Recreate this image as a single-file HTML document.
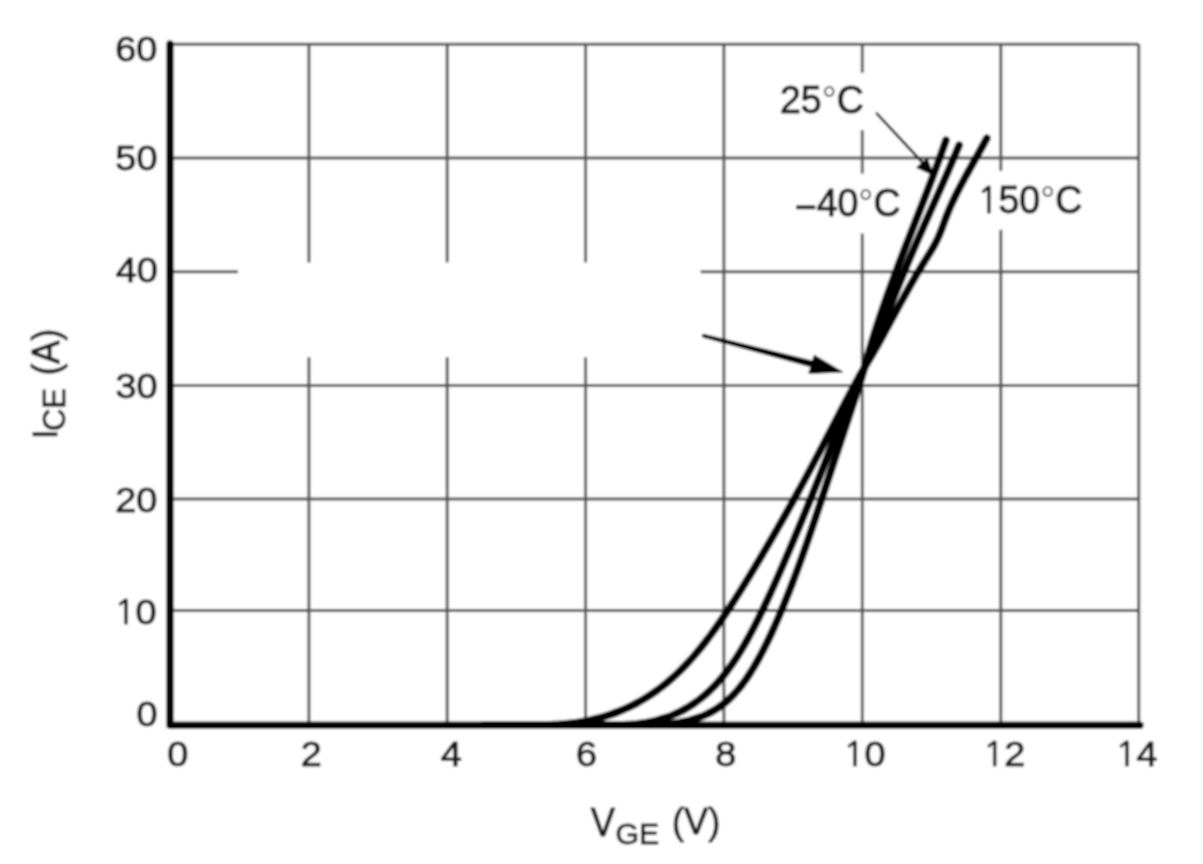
<!DOCTYPE html>
<html><head><meta charset="utf-8"><title>IGBT transfer characteristics: I_CE vs V_GE</title>
<style>html,body{margin:0;padding:0;background:#fff;overflow:hidden;}svg{display:block;}text{font-kerning:none;}</style></head>
<body><svg width="1203" height="864" viewBox="0 0 1203 864">
<defs><filter id="soft" x="-1%" y="-1%" width="102%" height="102%"><feGaussianBlur stdDeviation="1.0"/></filter></defs>
<rect width="1203" height="864" fill="#fff"/>
<g filter="url(#soft)">
<rect width="1203" height="864" fill="#fff"/>
<path d="M308.90 44.20V262.50M308.90 357.30V725.20M447.20 44.20V262.50M447.20 357.30V725.20M585.60 44.20V262.50M585.60 357.30V725.20M723.90 44.20V725.20M862.30 44.20V73.00M862.30 130.20V173.50M862.30 233.50V725.20M1000.80 44.20V171.00M1000.80 229.70V725.20M1138.75 44.20V725.20M170.00 44.20H1138.75M170.00 158.10H1138.75M170.00 271.70H238M700.6 271.70H1138.75M170.00 385.45H1138.75M170.00 498.90H1138.75M170.00 610.60H1138.75" stroke="#555555" stroke-width="3.0" fill="none"/>
<path d="M170.00 44.00 V725.20 H1140" stroke="#000" stroke-width="7.4" fill="none" stroke-linecap="round" stroke-linejoin="round"/>
<g stroke="#000" stroke-width="7.8" fill="none" stroke-linecap="round" stroke-linejoin="round"><path d="M483.98 725.00 C493.98 725.00 533.06 725.01 543.98 725.00 C554.90 724.99 547.66 724.98 549.48 724.94 C551.30 724.90 553.12 724.83 554.92 724.75 C556.72 724.67 558.52 724.57 560.31 724.44 C562.09 724.32 563.87 724.17 565.63 724.00 C567.39 723.83 569.14 723.65 570.89 723.44 C572.63 723.23 574.38 723.00 576.10 722.75 C577.83 722.50 579.54 722.23 581.24 721.94 C582.94 721.65 585.07 721.24 586.32 721.00 C587.57 720.76 586.32 721.08 588.76 720.50 C591.20 719.92 597.32 718.50 600.96 717.50 C604.60 716.50 607.63 715.50 610.59 714.50 C613.55 713.50 616.18 712.50 618.71 711.50 C621.25 710.50 623.56 709.50 625.80 708.50 C628.04 707.50 630.12 706.50 632.13 705.50 C634.14 704.50 636.03 703.50 637.87 702.50 C639.71 701.50 641.46 700.50 643.15 699.50 C644.84 698.50 646.46 697.50 648.03 696.50 C649.60 695.50 651.11 694.50 652.58 693.50 C654.05 692.50 655.47 691.50 656.85 690.50 C658.23 689.50 659.57 688.50 660.88 687.50 C662.19 686.50 663.46 685.50 664.70 684.50 C665.94 683.50 667.15 682.50 668.33 681.50 C669.51 680.50 670.66 679.50 671.79 678.50 C672.92 677.50 674.02 676.50 675.10 675.50 C676.18 674.50 677.24 673.50 678.28 672.50 C679.32 671.50 680.34 670.50 681.34 669.50 C682.34 668.50 683.32 667.50 684.29 666.50 C685.26 665.50 686.20 664.50 687.14 663.50 C688.08 662.50 689.00 661.50 689.90 660.50 C690.80 659.50 691.69 658.50 692.57 657.50 C693.45 656.50 694.32 655.50 695.18 654.50 C696.04 653.50 696.88 652.50 697.71 651.50 C698.54 650.50 699.37 649.50 700.18 648.50 C700.99 647.50 701.80 646.50 702.59 645.50 C703.38 644.50 704.17 643.50 704.95 642.50 C705.73 641.50 706.50 640.50 707.26 639.50 C708.02 638.50 708.77 637.50 709.52 636.50 C710.27 635.50 711.01 634.50 711.75 633.50 C712.49 632.50 713.21 631.50 713.93 630.50 C714.65 629.50 715.37 628.50 716.08 627.50 C716.79 626.50 717.50 625.50 718.20 624.50 C718.90 623.50 719.60 622.50 720.29 621.50 C720.98 620.50 721.67 619.50 722.35 618.50 C723.03 617.50 723.71 616.50 724.38 615.50 C725.05 614.50 725.72 613.50 726.39 612.50 C727.06 611.50 727.72 610.50 728.38 609.50 C729.04 608.50 729.70 607.50 730.35 606.50 C731.00 605.50 731.65 604.50 732.30 603.50 C732.95 602.50 733.60 601.50 734.24 600.50 C734.88 599.50 735.51 598.50 736.15 597.50 C736.78 596.50 737.42 595.50 738.05 594.50 C738.68 593.50 739.31 592.50 739.94 591.50 C740.57 590.50 741.20 589.50 741.82 588.50 C742.44 587.50 743.06 586.50 743.68 585.50 C744.30 584.50 744.91 583.50 745.53 582.50 C746.15 581.50 746.77 580.50 747.38 579.50 C747.99 578.50 748.60 577.50 749.21 576.50 C749.82 575.50 750.42 574.50 751.03 573.50 C751.64 572.50 752.25 571.50 752.85 570.50 C753.45 569.50 754.05 568.50 754.65 567.50 C755.25 566.50 755.85 565.50 756.45 564.50 C757.05 563.50 757.64 562.50 758.24 561.50 C758.84 560.50 759.44 559.50 760.03 558.50 C760.62 557.50 761.21 556.50 761.80 555.50 C762.39 554.50 762.98 553.50 763.57 552.50 C764.16 551.50 764.75 550.50 765.34 549.50 C765.93 548.50 766.51 547.50 767.09 546.50 C767.67 545.50 768.26 544.50 768.84 543.50 C769.42 542.50 770.01 541.50 770.59 540.50 C771.17 539.50 771.75 538.50 772.33 537.50 C772.91 536.50 773.48 535.50 774.06 534.50 C774.64 533.50 775.21 532.50 775.79 531.50 C776.37 530.50 776.94 529.50 777.51 528.50 C778.08 527.50 778.66 526.50 779.23 525.50 C779.80 524.50 780.37 523.50 780.94 522.50 C781.51 521.50 782.07 520.50 782.64 519.50 C783.21 518.50 783.77 517.50 784.34 516.50 C784.91 515.50 785.48 514.50 786.04 513.50 C786.60 512.50 787.16 511.50 787.72 510.50 C788.28 509.50 788.85 508.50 789.41 507.50 C789.97 506.50 790.52 505.50 791.08 504.50 C791.64 503.50 792.20 502.50 792.75 501.50 C793.30 500.50 793.86 499.50 794.41 498.50 C794.96 497.50 795.52 496.50 796.07 495.50 C796.62 494.50 797.17 493.50 797.72 492.50 C798.27 491.50 798.82 490.50 799.37 489.50 C799.92 488.50 800.46 487.50 801.01 486.50 C801.56 485.50 802.11 484.50 802.65 483.50 C803.19 482.50 803.73 481.50 804.27 480.50 C804.81 479.50 805.36 478.50 805.90 477.50 C806.44 476.50 806.97 475.50 807.51 474.50 C808.05 473.50 808.58 472.50 809.12 471.50 C809.66 470.50 810.20 469.50 810.73 468.50 C811.26 467.50 811.80 466.50 812.33 465.50 C812.86 464.50 813.40 463.50 813.93 462.50 C814.46 461.50 814.99 460.50 815.52 459.50 C816.05 458.50 816.57 457.50 817.10 456.50 C817.63 455.50 818.15 454.50 818.68 453.50 C819.21 452.50 819.74 451.50 820.26 450.50 C820.78 449.50 821.31 448.50 821.83 447.50 C822.35 446.50 822.88 445.50 823.40 444.50 C823.92 443.50 824.44 442.50 824.96 441.50 C825.48 440.50 826.01 439.50 826.53 438.50 C827.05 437.50 827.57 436.50 828.09 435.50 C828.61 434.50 829.13 433.50 829.65 432.50 C830.17 431.50 830.68 430.50 831.20 429.50 C831.72 428.50 832.24 427.50 832.76 426.50 C833.28 425.50 833.80 424.50 834.32 423.50 C834.84 422.50 835.35 421.50 835.87 420.50 C836.39 419.50 836.91 418.50 837.43 417.50 C837.95 416.50 838.47 415.50 838.99 414.50 C839.51 413.50 840.03 412.50 840.55 411.50 C841.07 410.50 841.60 409.50 842.12 408.50 C842.64 407.50 843.17 406.50 843.69 405.50 C844.22 404.50 844.74 403.50 845.27 402.50 C845.80 401.50 846.32 400.50 846.85 399.50 C847.38 398.50 847.91 397.50 848.44 396.50 C848.97 395.50 849.50 394.50 850.04 393.50 C850.57 392.50 851.11 391.50 851.65 390.50 C852.19 389.50 852.74 388.50 853.28 387.50 C853.82 386.50 854.36 385.50 854.91 384.50 C855.46 383.50 856.01 382.50 856.56 381.50 C857.10 380.50 857.63 379.50 858.18 378.50 C858.72 377.50 859.27 376.50 859.83 375.50 C860.39 374.50 860.97 373.50 861.55 372.50 C862.13 371.50 862.73 370.50 863.32 369.50 C863.92 368.50 864.52 367.50 865.12 366.50 C865.72 365.50 866.33 364.50 866.93 363.50 C867.53 362.50 868.13 361.50 868.73 360.50 C869.33 359.50 869.91 358.50 870.50 357.50 C871.09 356.50 871.67 355.50 872.25 354.50 C872.83 353.50 873.40 352.50 873.97 351.50 C874.54 350.50 875.12 349.50 875.69 348.50 C876.26 347.50 876.82 346.50 877.38 345.50 C877.94 344.50 878.50 343.50 879.06 342.50 C879.62 341.50 880.17 340.50 880.73 339.50 C881.29 338.50 881.84 337.50 882.39 336.50 C882.94 335.50 883.49 334.50 884.04 333.50 C884.59 332.50 885.13 331.50 885.68 330.50 C886.22 329.50 886.77 328.50 887.31 327.50 C887.85 326.50 888.40 325.50 888.94 324.50 C889.48 323.50 890.02 322.50 890.56 321.50 C891.10 320.50 891.65 319.50 892.19 318.50 C892.73 317.50 893.27 316.50 893.81 315.50 C894.35 314.50 894.89 313.50 895.43 312.50 C895.97 311.50 896.51 310.50 897.05 309.50 C897.59 308.50 898.14 307.50 898.68 306.50 C899.22 305.50 899.76 304.50 900.31 303.50 C900.86 302.50 901.40 301.50 901.95 300.50 C902.50 299.50 903.04 298.50 903.59 297.50 C904.14 296.50 904.70 295.50 905.25 294.50 C905.80 293.50 906.36 292.50 906.92 291.50 C907.48 290.50 908.03 289.50 908.59 288.50 C909.15 287.50 909.72 286.50 910.29 285.50 C910.86 284.50 911.42 283.50 911.99 282.50 C912.56 281.50 913.14 280.50 913.72 279.50 C914.30 278.50 914.88 277.50 915.46 276.50 C916.04 275.50 916.63 274.50 917.22 273.50 C917.81 272.50 918.40 271.50 919.00 270.50 C919.60 269.50 920.19 268.50 920.80 267.50 C921.40 266.50 922.02 265.50 922.63 264.50 C923.24 263.50 923.86 262.50 924.48 261.50 C925.10 260.50 925.73 259.50 926.36 258.50 C926.99 257.50 927.62 256.50 928.24 255.50 C928.86 254.50 929.49 253.50 930.10 252.50 C930.71 251.50 931.32 250.50 931.91 249.50 C932.50 248.50 933.09 247.50 933.65 246.50 C934.21 245.50 934.76 244.50 935.28 243.50 C935.80 242.50 936.30 241.50 936.79 240.50 C937.27 239.50 937.74 238.50 938.19 237.50 C938.64 236.50 939.06 235.50 939.48 234.50 C939.90 233.50 940.30 232.50 940.70 231.50 C941.10 230.50 941.48 229.50 941.86 228.50 C942.24 227.50 942.62 226.50 942.99 225.50 C943.36 224.50 943.73 223.50 944.10 222.50 C944.47 221.50 944.84 220.50 945.21 219.50 C945.59 218.50 945.96 217.50 946.35 216.50 C946.74 215.50 947.13 214.50 947.53 213.50 C947.93 212.50 948.35 211.50 948.77 210.50 C949.19 209.50 949.62 208.50 950.05 207.50 C950.48 206.50 950.93 205.50 951.38 204.50 C951.83 203.50 952.29 202.50 952.76 201.50 C953.23 200.50 953.70 199.50 954.18 198.50 C954.66 197.50 955.15 196.50 955.64 195.50 C956.13 194.50 956.63 193.50 957.13 192.50 C957.63 191.50 958.14 190.50 958.66 189.50 C959.17 188.50 959.70 187.50 960.22 186.50 C960.74 185.50 961.27 184.50 961.80 183.50 C962.33 182.50 962.87 181.50 963.41 180.50 C963.95 179.50 964.49 178.50 965.03 177.50 C965.57 176.50 966.13 175.50 966.68 174.50 C967.23 173.50 967.79 172.50 968.34 171.50 C968.89 170.50 969.45 169.50 970.01 168.50 C970.57 167.50 971.13 166.50 971.69 165.50 C972.25 164.50 972.81 163.50 973.37 162.50 C973.93 161.50 974.50 160.50 975.06 159.50 C975.62 158.50 976.19 157.50 976.75 156.50 C977.31 155.50 977.87 154.50 978.43 153.50 C978.99 152.50 979.55 151.50 980.11 150.50 C980.67 149.50 981.23 148.50 981.78 147.50 C982.33 146.50 982.88 145.50 983.43 144.50 C983.98 143.50 984.53 142.50 985.07 141.50 C985.61 140.50 986.40 139.03 986.69 138.50 C986.98 137.97 986.78 138.33 986.80 138.30"/><path d="M558.71 725.00 C568.71 725.00 607.92 725.01 618.71 725.00 C629.50 724.99 621.87 724.98 623.43 724.94 C624.99 724.90 626.54 724.83 628.07 724.75 C629.60 724.67 631.12 724.57 632.63 724.44 C634.14 724.32 635.63 724.17 637.11 724.00 C638.59 723.83 640.06 723.65 641.52 723.44 C642.98 723.23 644.43 723.00 645.86 722.75 C647.29 722.50 648.70 722.23 650.11 721.94 C651.52 721.65 653.27 721.24 654.30 721.00 C655.33 720.76 654.31 721.08 656.30 720.50 C658.29 719.92 663.28 718.50 666.22 717.50 C669.16 716.50 671.59 715.50 673.95 714.50 C676.31 713.50 678.39 712.50 680.39 711.50 C682.39 710.50 684.22 709.50 685.97 708.50 C687.73 707.50 689.35 706.50 690.92 705.50 C692.49 704.50 693.95 703.50 695.37 702.50 C696.79 701.50 698.14 700.50 699.44 699.50 C700.74 698.50 701.98 697.50 703.18 696.50 C704.38 695.50 705.54 694.50 706.66 693.50 C707.78 692.50 708.85 691.50 709.90 690.50 C710.95 689.50 711.96 688.50 712.95 687.50 C713.94 686.50 714.90 685.50 715.83 684.50 C716.76 683.50 717.66 682.50 718.55 681.50 C719.44 680.50 720.30 679.50 721.15 678.50 C722.00 677.50 722.81 676.50 723.62 675.50 C724.43 674.50 725.22 673.50 725.99 672.50 C726.76 671.50 727.52 670.50 728.26 669.50 C729.00 668.50 729.73 667.50 730.45 666.50 C731.17 665.50 731.87 664.50 732.56 663.50 C733.25 662.50 733.93 661.50 734.60 660.50 C735.27 659.50 735.92 658.50 736.57 657.50 C737.22 656.50 737.86 655.50 738.49 654.50 C739.12 653.50 739.75 652.50 740.36 651.50 C740.97 650.50 741.57 649.50 742.17 648.50 C742.77 647.50 743.36 646.50 743.94 645.50 C744.52 644.50 745.10 643.50 745.67 642.50 C746.24 641.50 746.81 640.50 747.37 639.50 C747.93 638.50 748.47 637.50 749.02 636.50 C749.57 635.50 750.11 634.50 750.65 633.50 C751.19 632.50 751.72 631.50 752.25 630.50 C752.78 629.50 753.30 628.50 753.82 627.50 C754.34 626.50 754.86 625.50 755.37 624.50 C755.88 623.50 756.39 622.50 756.89 621.50 C757.39 620.50 757.89 619.50 758.39 618.50 C758.89 617.50 759.38 616.50 759.87 615.50 C760.36 614.50 760.85 613.50 761.34 612.50 C761.83 611.50 762.31 610.50 762.79 609.50 C763.27 608.50 763.75 607.50 764.22 606.50 C764.70 605.50 765.17 604.50 765.64 603.50 C766.11 602.50 766.57 601.50 767.04 600.50 C767.51 599.50 767.98 598.50 768.44 597.50 C768.90 596.50 769.36 595.50 769.82 594.50 C770.28 593.50 770.74 592.50 771.19 591.50 C771.64 590.50 772.10 589.50 772.55 588.50 C773.00 587.50 773.46 586.50 773.91 585.50 C774.36 584.50 774.80 583.50 775.25 582.50 C775.70 581.50 776.14 580.50 776.59 579.50 C777.04 578.50 777.48 577.50 777.92 576.50 C778.36 575.50 778.80 574.50 779.24 573.50 C779.68 572.50 780.12 571.50 780.56 570.50 C781.00 569.50 781.42 568.50 781.86 567.50 C782.30 566.50 782.73 565.50 783.17 564.50 C783.61 563.50 784.04 562.50 784.47 561.50 C784.90 560.50 785.33 559.50 785.76 558.50 C786.19 557.50 786.62 556.50 787.05 555.50 C787.48 554.50 787.90 553.50 788.33 552.50 C788.76 551.50 789.19 550.50 789.61 549.50 C790.03 548.50 790.46 547.50 790.88 546.50 C791.30 545.50 791.73 544.50 792.15 543.50 C792.57 542.50 793.00 541.50 793.42 540.50 C793.84 539.50 794.26 538.50 794.68 537.50 C795.10 536.50 795.51 535.50 795.93 534.50 C796.35 533.50 796.77 532.50 797.19 531.50 C797.61 530.50 798.03 529.50 798.44 528.50 C798.86 527.50 799.27 526.50 799.68 525.50 C800.09 524.50 800.51 523.50 800.92 522.50 C801.33 521.50 801.75 520.50 802.16 519.50 C802.57 518.50 802.99 517.50 803.40 516.50 C803.81 515.50 804.22 514.50 804.63 513.50 C805.04 512.50 805.45 511.50 805.86 510.50 C806.27 509.50 806.67 508.50 807.08 507.50 C807.49 506.50 807.89 505.50 808.30 504.50 C808.71 503.50 809.11 502.50 809.52 501.50 C809.93 500.50 810.34 499.50 810.74 498.50 C811.14 497.50 811.55 496.50 811.95 495.50 C812.35 494.50 812.76 493.50 813.16 492.50 C813.56 491.50 813.96 490.50 814.36 489.50 C814.76 488.50 815.17 487.50 815.57 486.50 C815.97 485.50 816.37 484.50 816.77 483.50 C817.17 482.50 817.57 481.50 817.97 480.50 C818.37 479.50 818.76 478.50 819.16 477.50 C819.56 476.50 819.95 475.50 820.35 474.50 C820.75 473.50 821.15 472.50 821.55 471.50 C821.95 470.50 822.34 469.50 822.73 468.50 C823.12 467.50 823.52 466.50 823.92 465.50 C824.32 464.50 824.72 463.50 825.11 462.50 C825.50 461.50 825.89 460.50 826.29 459.50 C826.68 458.50 827.09 457.50 827.48 456.50 C827.88 455.50 828.27 454.50 828.66 453.50 C829.05 452.50 829.45 451.50 829.84 450.50 C830.23 449.50 830.63 448.50 831.02 447.50 C831.41 446.50 831.81 445.50 832.20 444.50 C832.60 443.50 833.00 442.50 833.39 441.50 C833.78 440.50 834.18 439.50 834.57 438.50 C834.96 437.50 835.36 436.50 835.75 435.50 C836.14 434.50 836.54 433.50 836.94 432.50 C837.34 431.50 837.73 430.50 838.13 429.50 C838.53 428.50 838.92 427.50 839.32 426.50 C839.72 425.50 840.12 424.50 840.52 423.50 C840.92 422.50 841.32 421.50 841.72 420.50 C842.12 419.50 842.52 418.50 842.92 417.50 C843.32 416.50 843.73 415.50 844.13 414.50 C844.53 413.50 844.94 412.50 845.35 411.50 C845.76 410.50 846.16 409.50 846.57 408.50 C846.98 407.50 847.39 406.50 847.80 405.50 C848.21 404.50 848.63 403.50 849.04 402.50 C849.45 401.50 849.86 400.50 850.28 399.50 C850.70 398.50 851.12 397.50 851.54 396.50 C851.96 395.50 852.38 394.50 852.81 393.50 C853.23 392.50 853.66 391.50 854.09 390.50 C854.52 389.50 854.95 388.50 855.38 387.50 C855.81 386.50 856.25 385.50 856.69 384.50 C857.13 383.50 857.56 382.50 858.01 381.50 C858.46 380.50 858.91 379.50 859.37 378.50 C859.83 377.50 860.30 376.50 860.77 375.50 C861.24 374.50 861.72 373.50 862.19 372.50 C862.66 371.50 863.14 370.50 863.61 369.50 C864.08 368.50 864.54 367.50 865.00 366.50 C865.46 365.50 865.92 364.50 866.37 363.50 C866.82 362.50 867.26 361.50 867.70 360.50 C868.14 359.50 868.57 358.50 869.00 357.50 C869.43 356.50 869.86 355.50 870.29 354.50 C870.72 353.50 871.14 352.50 871.57 351.50 C872.00 350.50 872.42 349.50 872.84 348.50 C873.26 347.50 873.69 346.50 874.11 345.50 C874.53 344.50 874.95 343.50 875.37 342.50 C875.79 341.50 876.21 340.50 876.62 339.50 C877.03 338.50 877.45 337.50 877.86 336.50 C878.27 335.50 878.69 334.50 879.10 333.50 C879.51 332.50 879.93 331.50 880.34 330.50 C880.75 329.50 881.16 328.50 881.57 327.50 C881.98 326.50 882.38 325.50 882.79 324.50 C883.20 323.50 883.60 322.50 884.01 321.50 C884.42 320.50 884.82 319.50 885.23 318.50 C885.64 317.50 886.05 316.50 886.45 315.50 C886.86 314.50 887.26 313.50 887.66 312.50 C888.06 311.50 888.47 310.50 888.87 309.50 C889.27 308.50 889.68 307.50 890.08 306.50 C890.48 305.50 890.89 304.50 891.29 303.50 C891.69 302.50 892.10 301.50 892.50 300.50 C892.90 299.50 893.32 298.50 893.72 297.50 C894.12 296.50 894.53 295.50 894.93 294.50 C895.33 293.50 895.74 292.50 896.14 291.50 C896.54 290.50 896.95 289.50 897.36 288.50 C897.77 287.50 898.17 286.50 898.58 285.50 C898.99 284.50 899.39 283.50 899.80 282.50 C900.21 281.50 900.62 280.50 901.03 279.50 C901.44 278.50 901.85 277.50 902.26 276.50 C902.67 275.50 903.08 274.50 903.49 273.50 C903.90 272.50 904.32 271.50 904.73 270.50 C905.14 269.50 905.56 268.50 905.98 267.50 C906.40 266.50 906.81 265.50 907.23 264.50 C907.65 263.50 908.07 262.50 908.49 261.50 C908.91 260.50 909.34 259.50 909.76 258.50 C910.18 257.50 910.60 256.50 911.03 255.50 C911.46 254.50 911.89 253.50 912.32 252.50 C912.75 251.50 913.18 250.50 913.61 249.50 C914.04 248.50 914.47 247.50 914.90 246.50 C915.33 245.50 915.77 244.50 916.20 243.50 C916.63 242.50 917.07 241.50 917.51 240.50 C917.95 239.50 918.38 238.50 918.82 237.50 C919.26 236.50 919.70 235.50 920.14 234.50 C920.58 233.50 921.02 232.50 921.46 231.50 C921.90 230.50 922.34 229.50 922.78 228.50 C923.22 227.50 923.66 226.50 924.10 225.50 C924.54 224.50 924.99 223.50 925.43 222.50 C925.87 221.50 926.31 220.50 926.76 219.50 C927.21 218.50 927.65 217.50 928.10 216.50 C928.55 215.50 928.99 214.50 929.43 213.50 C929.87 212.50 930.31 211.50 930.76 210.50 C931.21 209.50 931.65 208.50 932.10 207.50 C932.55 206.50 932.98 205.50 933.43 204.50 C933.88 203.50 934.32 202.50 934.77 201.50 C935.22 200.50 935.66 199.50 936.10 198.50 C936.54 197.50 936.99 196.50 937.43 195.50 C937.87 194.50 938.32 193.50 938.76 192.50 C939.20 191.50 939.65 190.50 940.09 189.50 C940.53 188.50 940.97 187.50 941.41 186.50 C941.85 185.50 942.29 184.50 942.73 183.50 C943.17 182.50 943.61 181.50 944.05 180.50 C944.49 179.50 944.92 178.50 945.36 177.50 C945.80 176.50 946.23 175.50 946.67 174.50 C947.11 173.50 947.54 172.50 947.97 171.50 C948.40 170.50 948.84 169.50 949.27 168.50 C949.70 167.50 950.13 166.50 950.56 165.50 C950.99 164.50 951.41 163.50 951.84 162.50 C952.27 161.50 952.70 160.50 953.12 159.50 C953.54 158.50 953.97 157.50 954.39 156.50 C954.81 155.50 955.23 154.50 955.65 153.50 C956.07 152.50 956.48 151.50 956.90 150.50 C957.32 149.50 957.78 148.38 958.15 147.50 C958.52 146.62 958.94 145.58 959.10 145.20"/><path d="M588.60 725.00 C598.60 725.00 637.70 725.01 648.60 725.00 C659.50 724.99 652.23 724.98 654.00 724.94 C655.77 724.90 657.52 724.83 659.24 724.75 C660.96 724.67 662.65 724.57 664.31 724.44 C665.97 724.32 667.60 724.17 669.21 724.00 C670.82 723.83 672.40 723.65 673.95 723.44 C675.50 723.23 677.02 723.00 678.52 722.75 C680.02 722.50 681.49 722.23 682.94 721.94 C684.39 721.65 686.15 721.24 687.20 721.00 C688.25 720.76 687.27 721.08 689.22 720.50 C691.17 719.92 696.10 718.50 698.93 717.50 C701.76 716.50 704.02 715.50 706.21 714.50 C708.40 713.50 710.28 712.50 712.09 711.50 C713.90 710.50 715.50 709.50 717.05 708.50 C718.59 707.50 720.00 706.50 721.36 705.50 C722.72 704.50 723.97 703.50 725.18 702.50 C726.39 701.50 727.52 700.50 728.62 699.50 C729.72 698.50 730.75 697.50 731.75 696.50 C732.75 695.50 733.71 694.50 734.63 693.50 C735.55 692.50 736.44 691.50 737.30 690.50 C738.16 689.50 739.00 688.50 739.81 687.50 C740.62 686.50 741.40 685.50 742.17 684.50 C742.93 683.50 743.67 682.50 744.40 681.50 C745.12 680.50 745.83 679.50 746.52 678.50 C747.21 677.50 747.89 676.50 748.55 675.50 C749.21 674.50 749.86 673.50 750.50 672.50 C751.14 671.50 751.75 670.50 752.37 669.50 C752.99 668.50 753.60 667.50 754.19 666.50 C754.79 665.50 755.37 664.50 755.94 663.50 C756.52 662.50 757.08 661.50 757.64 660.50 C758.20 659.50 758.75 658.50 759.30 657.50 C759.84 656.50 760.38 655.50 760.91 654.50 C761.44 653.50 761.96 652.50 762.48 651.50 C763.00 650.50 763.51 649.50 764.02 648.50 C764.53 647.50 765.03 646.50 765.53 645.50 C766.03 644.50 766.52 643.50 767.01 642.50 C767.50 641.50 767.98 640.50 768.46 639.50 C768.94 638.50 769.42 637.50 769.89 636.50 C770.36 635.50 770.83 634.50 771.29 633.50 C771.75 632.50 772.21 631.50 772.67 630.50 C773.13 629.50 773.59 628.50 774.04 627.50 C774.49 626.50 774.94 625.50 775.38 624.50 C775.82 623.50 776.26 622.50 776.70 621.50 C777.14 620.50 777.57 619.50 778.00 618.50 C778.43 617.50 778.86 616.50 779.29 615.50 C779.72 614.50 780.15 613.50 780.57 612.50 C780.99 611.50 781.40 610.50 781.82 609.50 C782.24 608.50 782.66 607.50 783.07 606.50 C783.48 605.50 783.89 604.50 784.30 603.50 C784.71 602.50 785.11 601.50 785.51 600.50 C785.91 599.50 786.32 598.50 786.72 597.50 C787.12 596.50 787.51 595.50 787.91 594.50 C788.30 593.50 788.70 592.50 789.09 591.50 C789.48 590.50 789.87 589.50 790.26 588.50 C790.65 587.50 791.03 586.50 791.42 585.50 C791.80 584.50 792.19 583.50 792.57 582.50 C792.95 581.50 793.32 580.50 793.70 579.50 C794.08 578.50 794.46 577.50 794.83 576.50 C795.21 575.50 795.58 574.50 795.95 573.50 C796.32 572.50 796.69 571.50 797.06 570.50 C797.43 569.50 797.79 568.50 798.16 567.50 C798.52 566.50 798.89 565.50 799.25 564.50 C799.61 563.50 799.98 562.50 800.34 561.50 C800.70 560.50 801.06 559.50 801.42 558.50 C801.78 557.50 802.12 556.50 802.48 555.50 C802.84 554.50 803.20 553.50 803.55 552.50 C803.90 551.50 804.25 550.50 804.60 549.50 C804.95 548.50 805.30 547.50 805.65 546.50 C806.00 545.50 806.35 544.50 806.70 543.50 C807.05 542.50 807.38 541.50 807.73 540.50 C808.08 539.50 808.43 538.50 808.77 537.50 C809.11 536.50 809.45 535.50 809.79 534.50 C810.13 533.50 810.48 532.50 810.82 531.50 C811.16 530.50 811.50 529.50 811.84 528.50 C812.18 527.50 812.51 526.50 812.85 525.50 C813.19 524.50 813.52 523.50 813.86 522.50 C814.20 521.50 814.53 520.50 814.87 519.50 C815.21 518.50 815.54 517.50 815.87 516.50 C816.20 515.50 816.54 514.50 816.87 513.50 C817.20 512.50 817.54 511.50 817.87 510.50 C818.20 509.50 818.54 508.50 818.87 507.50 C819.20 506.50 819.53 505.50 819.86 504.50 C820.19 503.50 820.52 502.50 820.85 501.50 C821.18 500.50 821.51 499.50 821.84 498.50 C822.17 497.50 822.50 496.50 822.83 495.50 C823.16 494.50 823.49 493.50 823.82 492.50 C824.15 491.50 824.48 490.50 824.81 489.50 C825.14 488.50 825.46 487.50 825.79 486.50 C826.12 485.50 826.45 484.50 826.78 483.50 C827.11 482.50 827.44 481.50 827.77 480.50 C828.10 479.50 828.42 478.50 828.75 477.50 C829.08 476.50 829.41 475.50 829.74 474.50 C830.07 473.50 830.40 472.50 830.73 471.50 C831.06 470.50 831.38 469.50 831.71 468.50 C832.04 467.50 832.37 466.50 832.70 465.50 C833.03 464.50 833.36 463.50 833.69 462.50 C834.02 461.50 834.35 460.50 834.68 459.50 C835.01 458.50 835.34 457.50 835.67 456.50 C836.00 455.50 836.34 454.50 836.67 453.50 C837.00 452.50 837.33 451.50 837.66 450.50 C837.99 449.50 838.32 448.50 838.65 447.50 C838.98 446.50 839.32 445.50 839.65 444.50 C839.98 443.50 840.31 442.50 840.64 441.50 C840.97 440.50 841.31 439.50 841.64 438.50 C841.97 437.50 842.31 436.50 842.64 435.50 C842.97 434.50 843.31 433.50 843.64 432.50 C843.97 431.50 844.30 430.50 844.63 429.50 C844.96 428.50 845.30 427.50 845.63 426.50 C845.96 425.50 846.30 424.50 846.63 423.50 C846.96 422.50 847.30 421.50 847.63 420.50 C847.96 419.50 848.30 418.50 848.63 417.50 C848.96 416.50 849.29 415.50 849.62 414.50 C849.95 413.50 850.29 412.50 850.62 411.50 C850.95 410.50 851.28 409.50 851.61 408.50 C851.94 407.50 852.27 406.50 852.60 405.50 C852.93 404.50 853.26 403.50 853.59 402.50 C853.92 401.50 854.24 400.50 854.57 399.50 C854.90 398.50 855.22 397.50 855.55 396.50 C855.88 395.50 856.20 394.50 856.53 393.50 C856.86 392.50 857.18 391.50 857.50 390.50 C857.82 389.50 858.15 388.50 858.47 387.50 C858.79 386.50 859.11 385.50 859.43 384.50 C859.75 383.50 860.06 382.50 860.38 381.50 C860.70 380.50 861.03 379.50 861.34 378.50 C861.65 377.50 861.97 376.50 862.27 375.50 C862.57 374.50 862.86 373.50 863.15 372.50 C863.44 371.50 863.72 370.50 864.00 369.50 C864.28 368.50 864.55 367.50 864.82 366.50 C865.09 365.50 865.36 364.50 865.62 363.50 C865.88 362.50 866.14 361.50 866.41 360.50 C866.68 359.50 866.98 358.50 867.26 357.50 C867.54 356.50 867.83 355.50 868.12 354.50 C868.41 353.50 868.70 352.50 868.99 351.50 C869.28 350.50 869.58 349.50 869.88 348.50 C870.18 347.50 870.48 346.50 870.78 345.50 C871.08 344.50 871.38 343.50 871.69 342.50 C872.00 341.50 872.30 340.50 872.61 339.50 C872.92 338.50 873.23 337.50 873.54 336.50 C873.85 335.50 874.16 334.50 874.48 333.50 C874.80 332.50 875.12 331.50 875.44 330.50 C875.76 329.50 876.08 328.50 876.40 327.50 C876.72 326.50 877.04 325.50 877.37 324.50 C877.70 323.50 878.03 322.50 878.36 321.50 C878.69 320.50 879.02 319.50 879.35 318.50 C879.68 317.50 880.01 316.50 880.35 315.50 C880.69 314.50 881.03 313.50 881.37 312.50 C881.71 311.50 882.05 310.50 882.39 309.50 C882.73 308.50 883.07 307.50 883.42 306.50 C883.76 305.50 884.11 304.50 884.46 303.50 C884.81 302.50 885.16 301.50 885.51 300.50 C885.86 299.50 886.21 298.50 886.56 297.50 C886.91 296.50 887.27 295.50 887.63 294.50 C887.99 293.50 888.34 292.50 888.70 291.50 C889.06 290.50 889.42 289.50 889.78 288.50 C890.14 287.50 890.50 286.50 890.87 285.50 C891.24 284.50 891.60 283.50 891.97 282.50 C892.34 281.50 892.70 280.50 893.07 279.50 C893.44 278.50 893.82 277.50 894.19 276.50 C894.56 275.50 894.94 274.50 895.31 273.50 C895.68 272.50 896.05 271.50 896.43 270.50 C896.80 269.50 897.18 268.50 897.56 267.50 C897.94 266.50 898.32 265.50 898.70 264.50 C899.08 263.50 899.46 262.50 899.84 261.50 C900.22 260.50 900.61 259.50 900.99 258.50 C901.37 257.50 901.75 256.50 902.14 255.50 C902.52 254.50 902.91 253.50 903.30 252.50 C903.69 251.50 904.07 250.50 904.46 249.50 C904.85 248.50 905.23 247.50 905.62 246.50 C906.01 245.50 906.40 244.50 906.79 243.50 C907.18 242.50 907.57 241.50 907.96 240.50 C908.35 239.50 908.74 238.50 909.13 237.50 C909.52 236.50 909.91 235.50 910.30 234.50 C910.69 233.50 911.09 232.50 911.48 231.50 C911.87 230.50 912.26 229.50 912.65 228.50 C913.04 227.50 913.44 226.50 913.83 225.50 C914.22 224.50 914.62 223.50 915.01 222.50 C915.40 221.50 915.79 220.50 916.18 219.50 C916.57 218.50 916.97 217.50 917.36 216.50 C917.75 215.50 918.15 214.50 918.54 213.50 C918.93 212.50 919.32 211.50 919.71 210.50 C920.10 209.50 920.50 208.50 920.89 207.50 C921.28 206.50 921.67 205.50 922.06 204.50 C922.45 203.50 922.84 202.50 923.23 201.50 C923.62 200.50 924.00 199.50 924.39 198.50 C924.78 197.50 925.16 196.50 925.55 195.50 C925.94 194.50 926.32 193.50 926.71 192.50 C927.10 191.50 927.49 190.50 927.87 189.50 C928.25 188.50 928.64 187.50 929.02 186.50 C929.40 185.50 929.79 184.50 930.17 183.50 C930.55 182.50 930.93 181.50 931.31 180.50 C931.69 179.50 932.07 178.50 932.45 177.50 C932.83 176.50 933.21 175.50 933.58 174.50 C933.96 173.50 934.33 172.50 934.70 171.50 C935.07 170.50 935.45 169.50 935.82 168.50 C936.19 167.50 936.56 166.50 936.93 165.50 C937.30 164.50 937.66 163.50 938.03 162.50 C938.40 161.50 938.76 160.50 939.13 159.50 C939.50 158.50 939.86 157.50 940.22 156.50 C940.58 155.50 940.94 154.50 941.30 153.50 C941.66 152.50 942.01 151.50 942.37 150.50 C942.73 149.50 943.08 148.50 943.43 147.50 C943.78 146.50 944.13 145.50 944.48 144.50 C944.83 143.50 945.28 142.20 945.52 141.50 C945.76 140.80 945.86 140.50 945.93 140.30"/></g>
<path d="M876.9 113.6 L922 162" stroke="#1a1a1a" stroke-width="2.8" fill="none" stroke-linecap="round"/><g fill="#000" stroke="#000" stroke-width="1" stroke-linejoin="round"><path d="M703.32 337.25 L811.24 366.90 L812.76 361.10 L704.08 334.35 Z"/><circle cx="703.70" cy="335.80" r="1.50"/><path d="M916.6 167.6 L927.1 158.2 L933.5 175.3 Z"/><path d="M814.3 355.2 L808.8 373.4 L842.6 372.0 Z"/></g>
<g fill="#1a1a1a" stroke="#1a1a1a" stroke-width="1.1" stroke-linejoin="round" font-family="'Liberation Sans', Arial, Helvetica, sans-serif" font-size="36"><text transform="translate(115.16 61.13) scale(1.050 0.995)">60</text><text transform="translate(115.36 170.43) scale(1.050 0.995)">50</text><text transform="translate(115.68 281.83) scale(1.050 0.995)">40</text><text transform="translate(115.40 398.13) scale(1.050 0.995)">30</text><text transform="translate(115.17 511.53) scale(1.050 0.995)">20</text><text transform="translate(114.19 623.98) scale(1.050 0.995)"><tspan font-family="NanumGothic, 'Liberation Sans', sans-serif" font-size="33.34">1</tspan>0</text><text transform="translate(136.44 725.83) scale(1.050 0.995)">0</text><text transform="translate(167.34 766.03) scale(1.050 0.995)">0</text><text transform="translate(300.64 766.46) scale(1.050 0.995)">2</text><text transform="translate(440.86 766.17) scale(1.050 0.995)">4</text><text transform="translate(575.96 766.18) scale(1.050 0.995)">6</text><text transform="translate(715.19 766.18) scale(1.050 0.995)">8</text><text transform="translate(843.29 766.18) scale(1.050 0.995)"><tspan font-family="NanumGothic, 'Liberation Sans', sans-serif" font-size="33.34">1</tspan>0</text><text transform="translate(982.95 766.31) scale(1.050 0.995)"><tspan font-family="NanumGothic, 'Liberation Sans', sans-serif" font-size="33.34">1</tspan>2</text><text transform="translate(1115.25 765.72) scale(1.050 0.995)"><tspan font-family="NanumGothic, 'Liberation Sans', sans-serif" font-size="33.34">1</tspan>4</text><text transform="translate(779.96 113.36) scale(1.042 1.078)">25<tspan stroke-width="0" fill="#555">°</tspan>C</text><text transform="translate(794.73 215.76) scale(1.042 1.078)"><tspan dy="3.6">−</tspan><tspan dy="-3.6">40<tspan stroke-width="0" fill="#555">°</tspan>C</tspan></text><text transform="translate(977.37 212.56) scale(1.042 1.078)"><tspan font-family="NanumGothic, 'Liberation Sans', sans-serif" font-size="33.34">1</tspan>50<tspan stroke-width="0" fill="#555">°</tspan>C</text><text transform="translate(590.74 835.50) scale(1.0086 1.1063)">V</text><text transform="translate(615.48 844.41) scale(0.8406 0.8278)">GE</text><text transform="translate(672.06 833.69) scale(1.0041 1.0078)">(V)</text><text transform="translate(56.90 439.05) rotate(-90) scale(0.9600 0.9811)">I</text><text transform="translate(65.30 431.07) rotate(-90) scale(0.8599 0.8553)">CE</text><text transform="translate(59.47 375.14) rotate(-90) scale(0.9604 1.0644)">(A)</text></g>
</g>
</svg></body></html>
